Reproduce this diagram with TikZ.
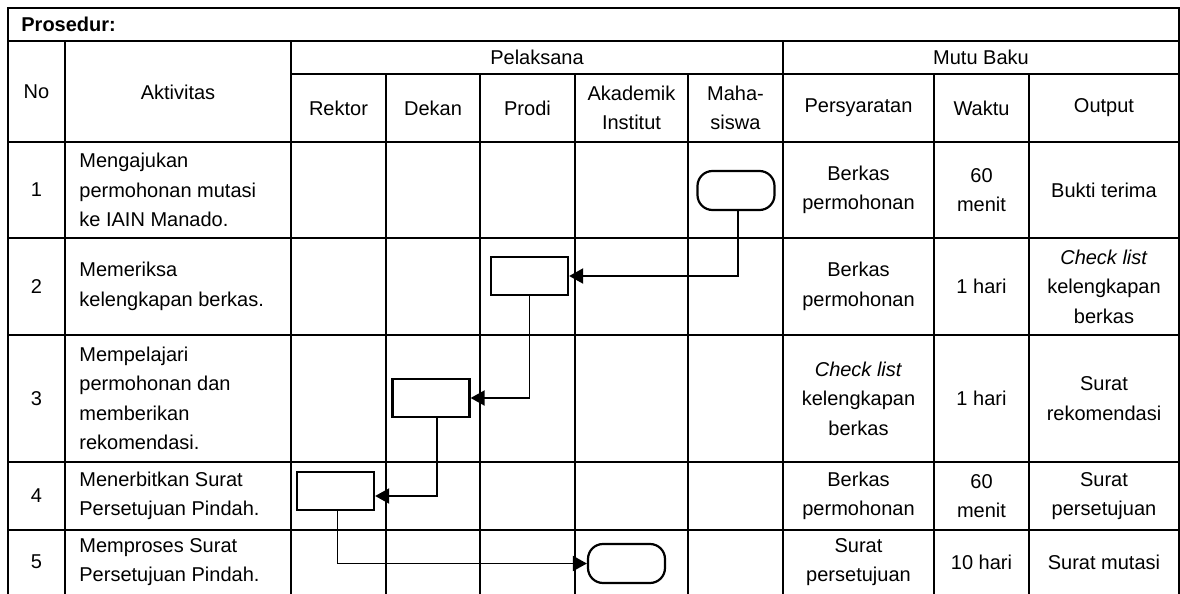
\documentclass[tikz,border=0pt]{standalone}
\usepackage{fontspec}
\setmainfont{Liberation Sans}
\usetikzlibrary{arrows.meta,positioning}
\tikzset{
  >={Triangle[length=7pt,width=7.5pt]},
  garis/.style={line width=1.15pt},
  cell/.style={align=center, inner sep=0pt, font=\fontsize{10}{14.75}\selectfont},
  akt/.style={cell, anchor=west, align=left},
  proses/.style={draw, line width=1.1pt, minimum width=38.5pt, minimum height=19pt, inner sep=0pt},
  terminal/.style={proses, minimum height=19.5pt, rounded corners=7.5pt},
  flow/.style={->, line width=0.95pt},
}

\begin{document}
\begin{tikzpicture}[x=0.5pt, y=-0.5pt]
  \useasboundingbox (0,0) rectangle (1180,594);
  % table frame
  \draw[garis] (8,594) -- (8,8) -- (1179,8) -- (1179,594);
  \draw[garis] (8,41) -- (1179,41);
  \draw[garis] (291,74) -- (1179,74);
  \draw[garis] (8,142) -- (1179,142);
  \draw[garis] (8,238) -- (1179,238);
  \draw[garis] (8,335) -- (1179,335);
  \draw[garis] (8,462) -- (1179,462);
  \draw[garis] (8,530) -- (1179,530);
  \draw[garis] (65,41) -- (65,594);
  \draw[garis] (291,41) -- (291,594);
  \draw[garis] (386,74) -- (386,594);
  \draw[garis] (480,74) -- (480,594);
  \draw[garis] (575,74) -- (575,594);
  \draw[garis] (688,74) -- (688,594);
  \draw[garis] (783,41) -- (783,594);
  \draw[garis] (934,74) -- (934,594);
  \draw[garis] (1029,74) -- (1029,594);

  % header
  \node[cell, font=\fontsize{10}{14.75}\selectfont\bfseries, anchor=west] (judul) at (21,24.5) {Prosedur:};
  \node[cell] (hno) at (36.5,92) {No};
  \node[cell] (hakt) at (178,92) {Aktivitas};
  \node[cell] (hpel) at (537,57.5) {Pelaksana};
  \node[cell] (hmutu) at (981,57.5) {Mutu Baku};
  \node[cell] (hrektor) at (338.5,108) {Rektor};
  \node[cell] (hdekan) at (433,108) {Dekan};
  \node[cell] (hprodi) at (527.5,108) {Prodi};
  \node[cell] (hakad) at (631.5,108) {Akademik\\Institut};
  \node[cell] (hmhs) at (735.5,108) {Maha-\\siswa};
  \node[cell] (hsyarat) at (858.5,108) {Persyaratan};
  \node[cell] (hwaktu) at (981.5,108) {Waktu};
  \node[cell] (houtput) at (1104,108) {Output};

  % rows
  \node[cell] (no1) at (36.5,190) {1};
  \node[akt] (akt1) at (79,190) {Mengajukan\\permohonan mutasi\\ke IAIN Manado.};
  \node[cell] (syarat1) at (858.5,190) {Berkas\\permohonan};
  \node[cell] (waktu1) at (981.5,190) {60\\menit};
  \node[cell] (out1) at (1104,190) {Bukti terima};

  \node[cell] (no2) at (36.5,286.5) {2};
  \node[akt] (akt2) at (79,286.5) {Memeriksa\\kelengkapan berkas.};
  \node[cell] (syarat2) at (858.5,286.5) {Berkas\\permohonan};
  \node[cell] (waktu2) at (981.5,286.5) {1 hari};
  \node[cell] (out2) at (1104,286.5) {\textit{Check list}\\kelengkapan\\berkas};

  \node[cell] (no3) at (36.5,398.5) {3};
  \node[akt] (akt3) at (79,398.5) {Mempelajari\\permohonan dan\\memberikan\\rekomendasi.};
  \node[cell] (syarat3) at (858.5,398.5) {\textit{Check list}\\kelengkapan\\berkas};
  \node[cell] (waktu3) at (981.5,398.5) {1 hari};
  \node[cell] (out3) at (1104,398.5) {Surat\\rekomendasi};

  \node[cell] (no4) at (36.5,496) {4};
  \node[akt] (akt4) at (79,496) {Menerbitkan Surat\\Persetujuan Pindah.};
  \node[cell] (syarat4) at (858.5,496) {Berkas\\permohonan};
  \node[cell] (waktu4) at (981.5,496) {60\\menit};
  \node[cell] (out4) at (1104,496) {Surat\\persetujuan};

  \node[cell] (no5) at (36.5,562) {5};
  \node[akt] (akt5) at (79,562) {Memproses Surat\\Persetujuan Pindah.};
  \node[cell] (syarat5) at (858.5,562) {Surat\\persetujuan};
  \node[cell] (waktu5) at (981.5,562) {10 hari};
  \node[cell] (out5) at (1104,562) {Surat mutasi};

  % flow symbols
  \node[terminal] (mhs1) at (736,190.5) {};
  \node[proses] (prodi2) at (529.5,276) {};
  \node[proses] (dekan3) at (431,398) {};
  \node[proses] (rektor4) at (335.5,491) {};
  \node[terminal] (akad5) at (626.5,563.5) {};

  \draw[flow] ([xshift=1pt]mhs1.south) |- (prodi2);
  \draw[flow] (prodi2) |- (dekan3);
  \draw[flow] ([xshift=3pt]dekan3.south) |- ([yshift=-2.5pt]rektor4.east);
  \draw[flow] ([xshift=1pt]rektor4.south) |- (akad5);
\end{tikzpicture}
\end{document}
